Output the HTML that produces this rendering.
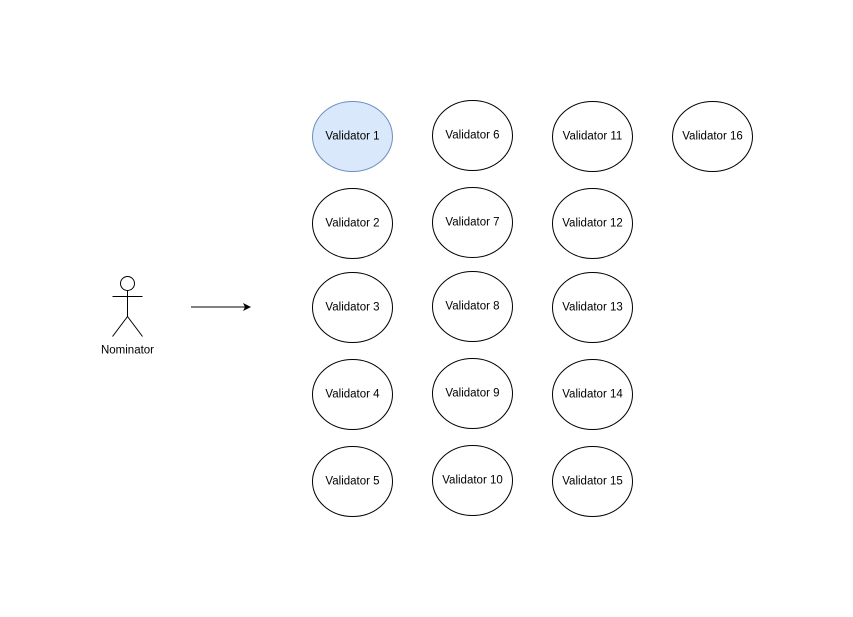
<!DOCTYPE html>
<html><head><style>body{margin:0;background:#fff}svg{display:block}text{font-family:"Liberation Sans",Arial,sans-serif;font-size:11.5px;fill:#000}</style></head><body>
<svg width="853" height="617" viewBox="0 0 853 617">
<rect width="853" height="617" fill="#fff"/>
<g stroke="#000" stroke-width="1" fill="none">
<circle cx="127.5" cy="283.5" r="7"/>
<line x1="127.5" y1="290.5" x2="127.5" y2="316.5"/>
<line x1="112.5" y1="296.5" x2="142.5" y2="296.5"/>
<line x1="127.5" y1="316.5" x2="112.5" y2="336.5"/>
<line x1="127.5" y1="316.5" x2="142.5" y2="336.5"/>
<line x1="191" y1="307" x2="245" y2="307"/>
</g>
<polygon points="251,307 243,303 245,307 243,311" fill="#000"/>
<text x="127.5" y="353.5" text-anchor="middle">Nominator</text>
<g stroke="#000" stroke-width="1" fill="#fff">
<ellipse cx="352.5" cy="136.5" rx="40" ry="35" fill="#dae8fc" stroke="#6c8ebf"/>
<ellipse cx="352.5" cy="223.5" rx="40" ry="35"/>
<ellipse cx="352.5" cy="307.5" rx="40" ry="35"/>
<ellipse cx="352.5" cy="394.5" rx="40" ry="35"/>
<ellipse cx="352.5" cy="481.5" rx="40" ry="35"/>
<ellipse cx="472.5" cy="135.5" rx="40" ry="35"/>
<ellipse cx="472.5" cy="222.5" rx="40" ry="35"/>
<ellipse cx="472.5" cy="306.5" rx="40" ry="35"/>
<ellipse cx="472.5" cy="393.5" rx="40" ry="35"/>
<ellipse cx="472.5" cy="480.5" rx="40" ry="35"/>
<ellipse cx="592.5" cy="136.5" rx="40" ry="35"/>
<ellipse cx="592.5" cy="223.5" rx="40" ry="35"/>
<ellipse cx="592.5" cy="307.5" rx="40" ry="35"/>
<ellipse cx="592.5" cy="394.5" rx="40" ry="35"/>
<ellipse cx="592.5" cy="481.5" rx="40" ry="35"/>
<ellipse cx="712.5" cy="136.5" rx="40" ry="35"/>
</g>
<g text-anchor="middle">
<text x="352.5" y="139.5">Validator 1</text>
<text x="352.5" y="226.5">Validator 2</text>
<text x="352.5" y="310.5">Validator 3</text>
<text x="352.5" y="397.5">Validator 4</text>
<text x="352.5" y="484.5">Validator 5</text>
<text x="472.5" y="138.5">Validator 6</text>
<text x="472.5" y="225.5">Validator 7</text>
<text x="472.5" y="309.5">Validator 8</text>
<text x="472.5" y="396.5">Validator 9</text>
<text x="472.5" y="483.5">Validator 10</text>
<text x="592.5" y="139.5">Validator 11</text>
<text x="592.5" y="226.5">Validator 12</text>
<text x="592.5" y="310.5">Validator 13</text>
<text x="592.5" y="397.5">Validator 14</text>
<text x="592.5" y="484.5">Validator 15</text>
<text x="712.5" y="139.5">Validator 16</text>
</g>
</svg>
</body></html>
